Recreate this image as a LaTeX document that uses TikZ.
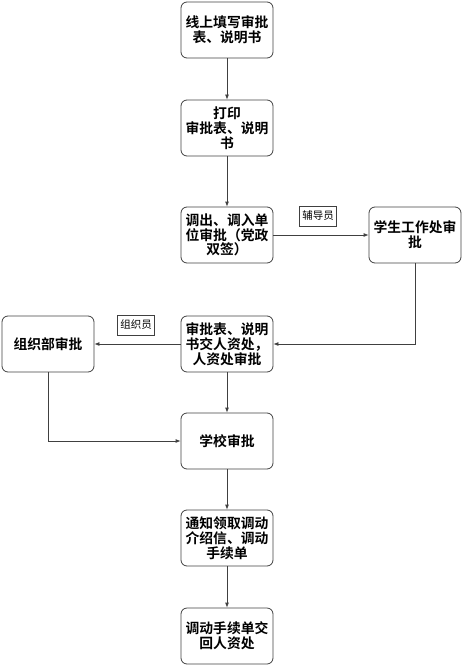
\documentclass[tikz,border=0pt]{standalone}
\usepackage{fontspec}
\setmainfont{Noto Sans CJK SC}
\newfontfamily\cjkbold{Noto Sans CJK SC Bold}
\usetikzlibrary{arrows.meta}

\begin{document}
\begin{tikzpicture}[x=1pt,y=-1pt,
    stepbox/.style={draw=black!75, rounded corners=6pt, line width=0.8pt,
        minimum width=92pt, minimum height=56pt, inner sep=1pt,
        align=center, font=\cjkbold\fontsize{13.8}{14.8}\selectfont},
    tagbox/.style={draw=black!75, line width=0.6pt, inner xsep=3pt, inner ysep=5pt,
        font=\fontsize{10.5}{12}\selectfont},
    flow/.style={draw=black!75, line width=0.8pt, -{Latex[length=5pt,width=4pt]}}]

    % Рамка
    \useasboundingbox (0,0) rectangle (463,666);

    % Основная цепочка
    \node[stepbox] (fill) at (227,30) {线上填写审批\\表、说明书};
    \node[stepbox] (print) at (227,128) {打印\\审批表、说明\\书};
    \node[stepbox] (unit) at (227,235) {调出、调入单\\位审批（党政\\双签）};
    \node[stepbox] (hr) at (227,344) {审批表、说明\\书交人资处，\\人资处审批};
    \node[stepbox] (school) at (227,441) {学校审批};
    \node[stepbox] (notify) at (227,538) {通知领取调动\\介绍信、调动\\手续单};
    \node[stepbox] (back) at (227,636) {调动手续单交\\回人资处};

    % Боковые блоки
    \node[stepbox] (student) at (415,235) {学生工作处审\\批};
    \node[stepbox] (org) at (48,344) {组织部审批};

    % Метки
    \node[tagbox] (tutor) at (318,216) {辅导员};
    \node[tagbox] (orgman) at (136,325) {组织员};

    % Стрелки
    \draw[flow] (fill) -- (print);
    \draw[flow] (print) -- (unit);
    \draw[flow] (unit) -- (student);
    \draw[flow] (student.south) |- (hr.east);
    \draw[flow] (hr) -- (org);
    \draw[flow] (hr) -- (school);
    \draw[flow] (org.south) |- (school.west);
    \draw[flow] (school) -- (notify);
    \draw[flow] (notify) -- (back);

\end{tikzpicture}
\end{document}
